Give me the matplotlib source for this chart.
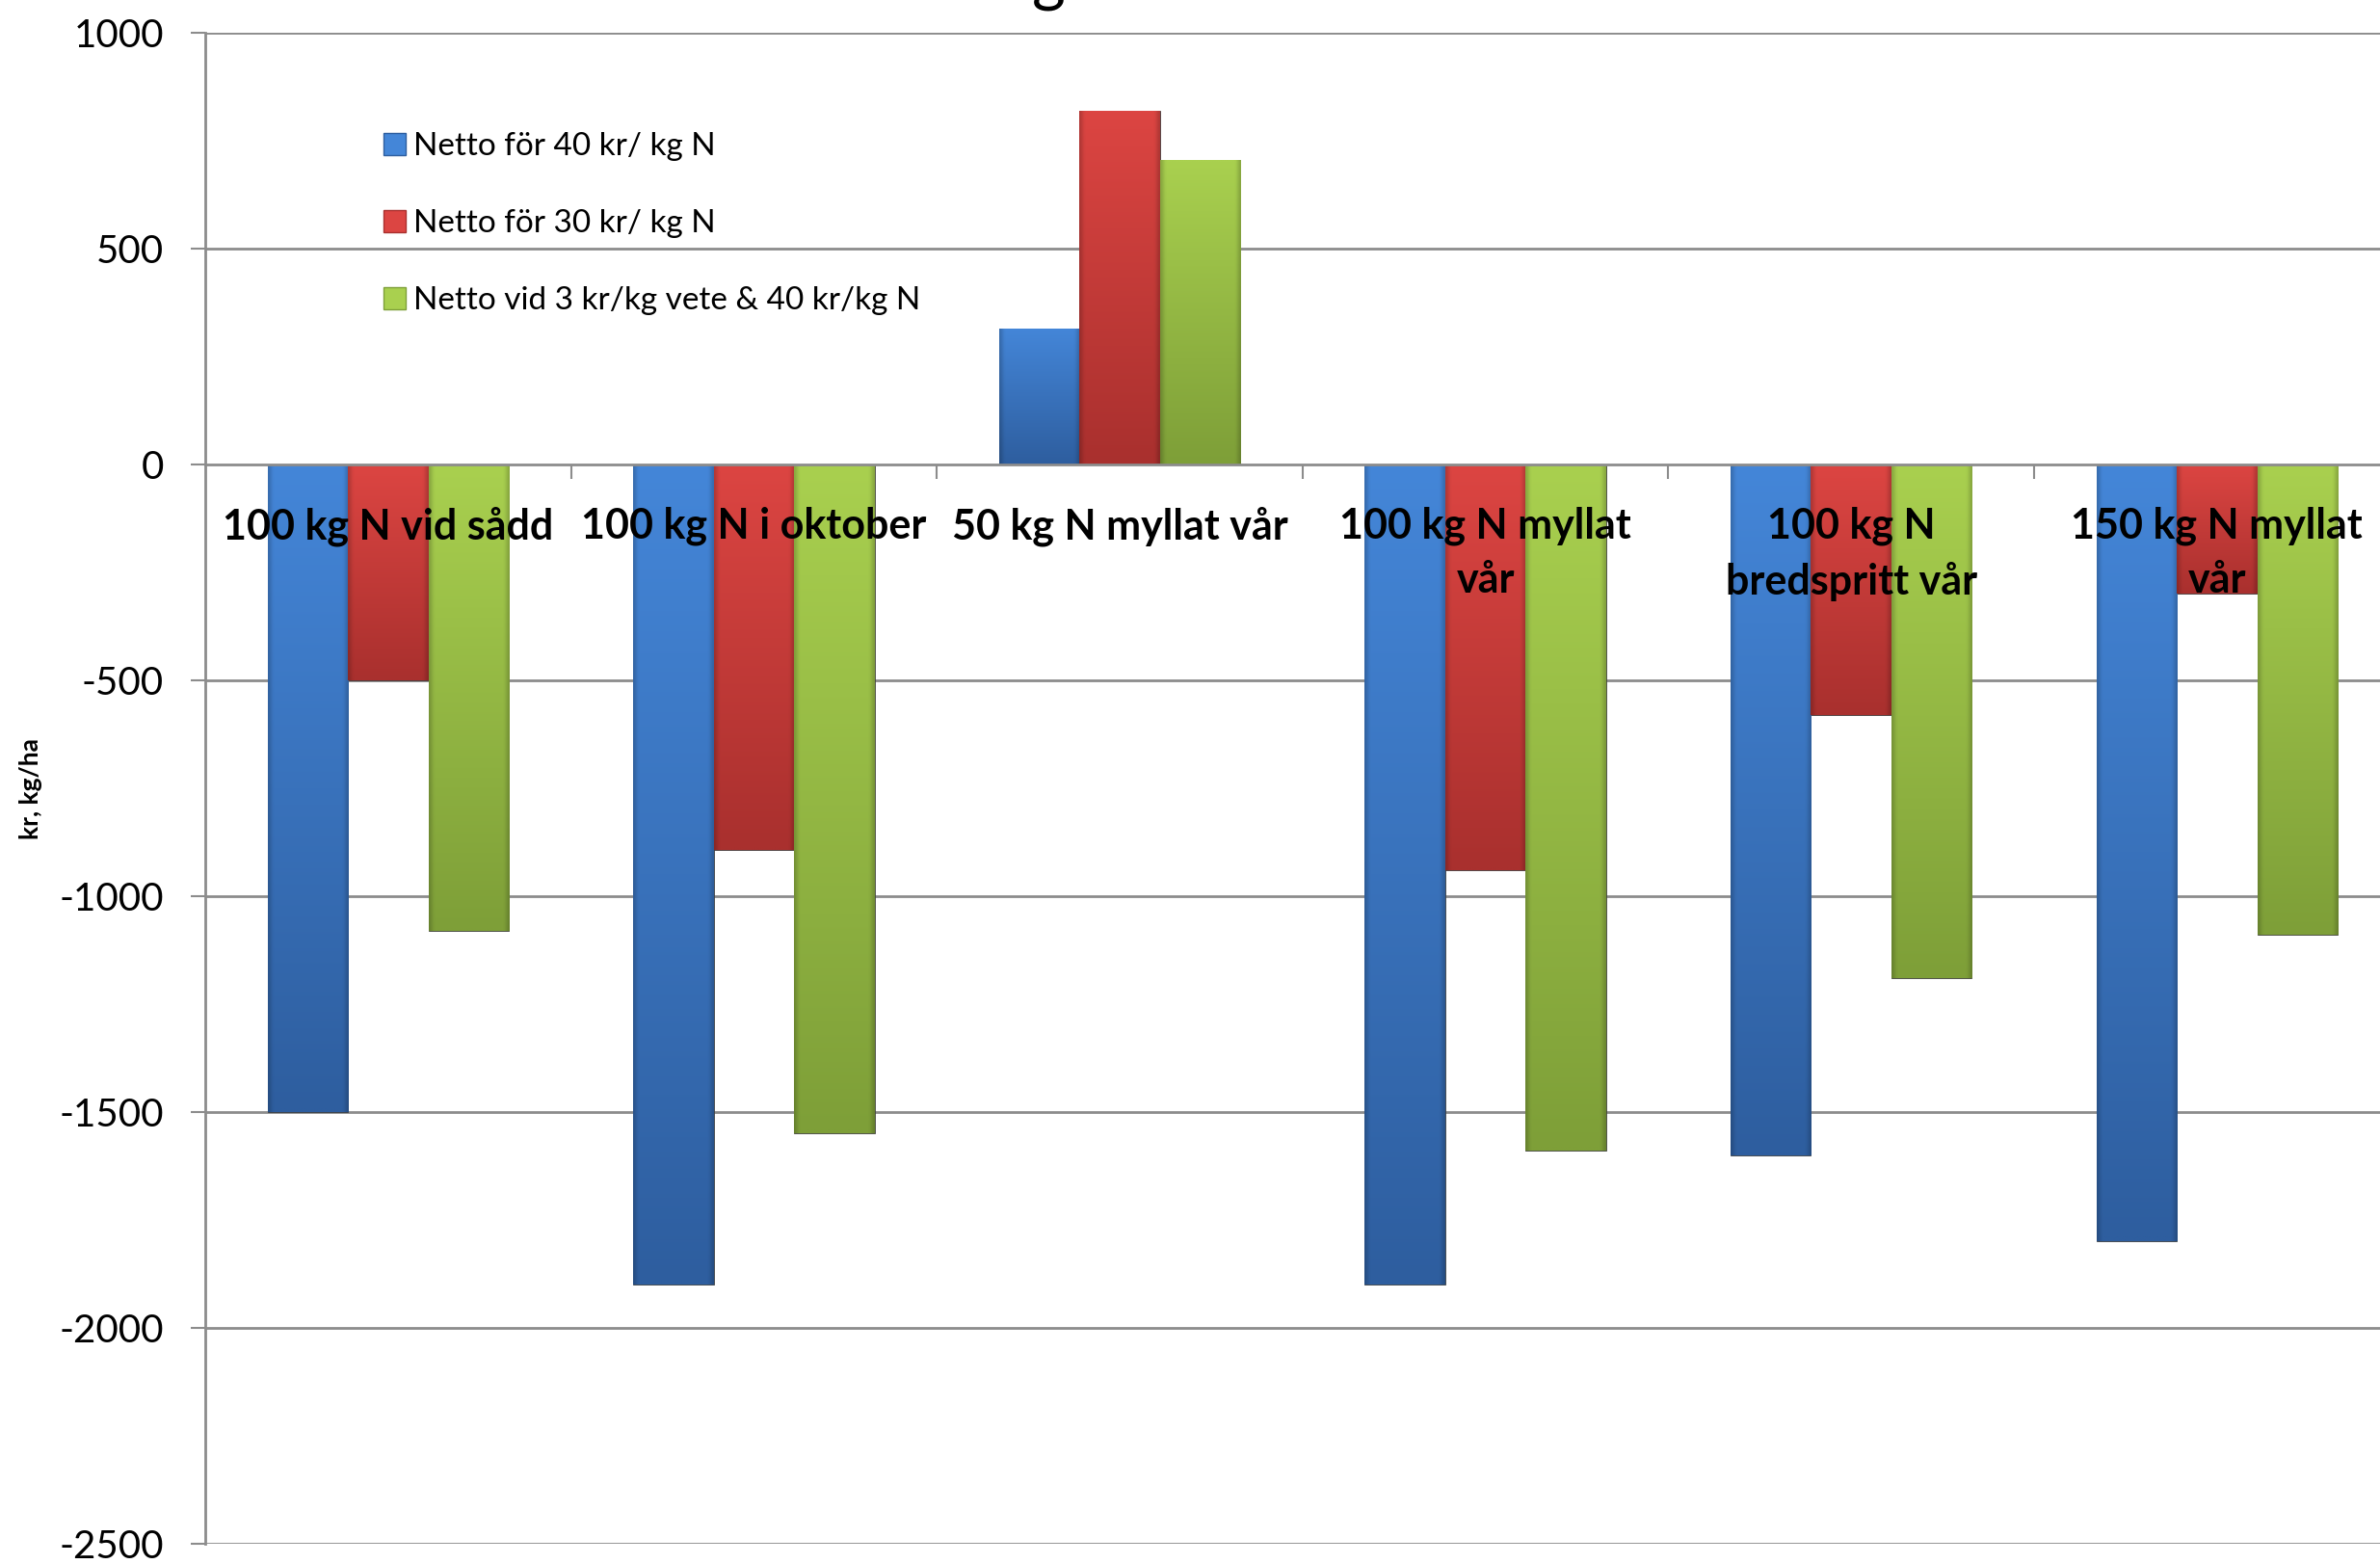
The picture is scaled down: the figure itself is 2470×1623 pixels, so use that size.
import numpy as np
import matplotlib
matplotlib.use('Agg')
import matplotlib.pyplot as plt
from matplotlib.patches import Patch
from matplotlib.colors import to_rgb
from matplotlib.ticker import FixedLocator

# ---------------- data ----------------
categories = ["100 kg N vid sådd", "100 kg N i oktober", "50 kg N myllat vår",
              "100 kg N myllat\nvår", "100 kg N\nbredspritt vår", "150 kg N myllat\nvår"]
series_names = ["Netto för 40 kr/ kg N", "Netto för 30 kr/ kg N",
                "Netto vid 3 kr/kg vete & 40 kr/kg N"]
netto_40 = [-1500, -1900, 315, -1900, -1600, -1800]
netto_30 = [-500, -893, 820, -940, -580, -300]
netto_vete = [-1080, -1550, 705, -1590, -1190, -1090]
y_ticks = [1000, 500, 0, -500, -1000, -1500, -2000, -2500]
y_label = "kr, kg/ha"
title_text = "g"

series = [netto_40, netto_30, netto_vete]
colors_top = ["#4486D8", "#DC4542", "#A9D04F"]
colors_bot = ["#2E5E9F", "#A9302E", "#7E9F38"]

plt.rcParams['font.family'] = ['Lato', 'DejaVu Sans']
GRID = "#8C8C8C"

fig = plt.figure(figsize=(24.7, 16.23), dpi=100)
top_px, bot_px = 34, 1602
ax = fig.add_axes([213 / 2470, 1 - bot_px / 1623, 1 - 213 / 2470, (bot_px - top_px) / 1623])

n = len(categories)
x = np.arange(n)
w = 0.22
offsets = [-w, 0, w]

# gridlines (below bars)
for yv in y_ticks:
    if yv != 0:
        ax.axhline(yv, color=GRID, lw=2.0, zorder=0.5)

for s, vals in enumerate(series):
    bars = ax.bar(x + offsets[s], vals, width=w, color=colors_top[s],
                  edgecolor="#3a3a3a", linewidth=0.6, zorder=2)
    ct = np.array(to_rgb(colors_top[s]))
    cb = np.array(to_rgb(colors_bot[s]))
    for b in bars:
        x0, y0 = b.get_x(), b.get_y()
        bw, bh = b.get_width(), b.get_height()
        ylo, yhi = min(y0, y0 + bh), max(y0, y0 + bh)
        t = np.linspace(0, 1, 80)[:, None]
        u = np.linspace(0, 1, 40)[None, :]
        edge = np.clip(1 - np.minimum(u, 1 - u) / 0.06, 0, 1)
        img = ct[None, None, :] * (1 - t[..., None]) + cb[None, None, :] * t[..., None]
        img = img * (1 - 0.18 * edge[..., None])
        img = np.clip(img, 0, 1)
        im = ax.imshow(img, extent=(x0, x0 + bw, ylo, yhi), origin='upper',
                       aspect='auto', zorder=2.1, interpolation='bilinear')
        im.set_clip_path(b)

ax.set_xlim(-0.5, -0.5 + (2470 - 213) / 379.6)
ax.set_ylim(-2500, 1000)
ax.set_aspect('auto')

# spines
for sp in ['top', 'right']:
    ax.spines[sp].set_visible(False)
ax.spines['left'].set_color(GRID)
ax.spines['left'].set_linewidth(2.0)
ax.spines['bottom'].set_position(('data', 0))
ax.spines['bottom'].set_color(GRID)
ax.spines['bottom'].set_linewidth(2.0)
ax.set_axisbelow(False)

# x ticks: labels at centers, marks at boundaries
ax.set_xticks(x)
ax.set_xticklabels(categories, fontsize=31, fontweight='bold', linespacing=1.5)
ax.tick_params(axis='x', which='major', length=0, pad=31)
ax.xaxis.set_minor_locator(FixedLocator(np.arange(n) + 0.5))
ax.tick_params(axis='x', which='minor', direction='out', length=11, width=1.5, color=GRID)

# y ticks
ax.set_yticks(y_ticks)
ax.set_yticklabels([str(v) for v in y_ticks], fontsize=29)
ax.tick_params(axis='y', direction='out', length=11, width=1.5, color=GRID, pad=20)

# y label
fig.text(32 / 2470, 1 - 819 / 1623, y_label, rotation=90, fontsize=19,
         fontweight='bold', ha='center', va='center')

# partially visible title (cut off at the top)
fig.text(1088 / 2470, 1.0, title_text, fontsize=48, ha='center', va='baseline')

# legend
handles = [Patch(facecolor=colors_top[i], edgecolor=colors_bot[i]) for i in range(3)]
leg = ax.legend(handles, series_names, loc='upper left',
                bbox_to_anchor=(385 / 2470, 1 - 124 / 1623), bbox_transform=fig.transFigure,
                fontsize=24, frameon=False, handlelength=0.68, handleheight=0.68,
                handletextpad=0.25, labelspacing=1.5, borderaxespad=0)

fig.savefig("out.png", dpi=100)
